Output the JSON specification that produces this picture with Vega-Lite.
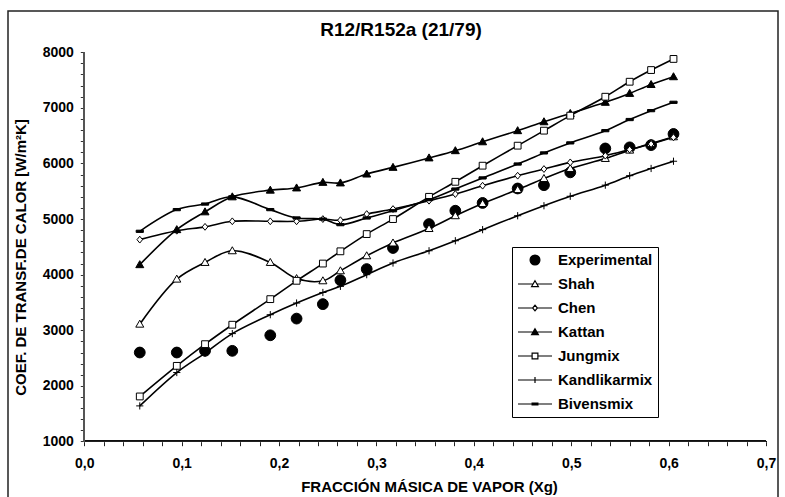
{
  "$schema": "https://vega.github.io/schema/vega-lite/v6.json",
  "width": 770,
  "height": 510,
  "autosize": {"type": "none"},
  "padding": {"left": 8, "top": 11, "right": 7, "bottom": 0},
  "background": "white",
  "title": {
    "text": "R12/R152a (21/79)",
    "font": "Liberation Sans",
    "fontSize": 19,
    "fontWeight": "bold",
    "color": "black",
    "anchor": "middle",
    "baseline": "alphabetic",
    "offset": -26,
    "dx": 8,
    "dy": 18
  },
  "config": {
    "view": {"stroke": "#222", "strokeWidth": 1.5},
    "font": "Liberation Sans"
  },
  "data": {
    "values": [
      {"x": 0.057, "series": "Experimental", "h": 2600},
      {"x": 0.095, "series": "Experimental", "h": 2600},
      {"x": 0.124, "series": "Experimental", "h": 2630},
      {"x": 0.152, "series": "Experimental", "h": 2630},
      {"x": 0.191, "series": "Experimental", "h": 2910},
      {"x": 0.218, "series": "Experimental", "h": 3210},
      {"x": 0.245, "series": "Experimental", "h": 3470},
      {"x": 0.263, "series": "Experimental", "h": 3900},
      {"x": 0.290, "series": "Experimental", "h": 4100},
      {"x": 0.317, "series": "Experimental", "h": 4480},
      {"x": 0.354, "series": "Experimental", "h": 4910},
      {"x": 0.381, "series": "Experimental", "h": 5150},
      {"x": 0.409, "series": "Experimental", "h": 5290},
      {"x": 0.445, "series": "Experimental", "h": 5550},
      {"x": 0.472, "series": "Experimental", "h": 5610},
      {"x": 0.499, "series": "Experimental", "h": 5840},
      {"x": 0.535, "series": "Experimental", "h": 6270},
      {"x": 0.560, "series": "Experimental", "h": 6290},
      {"x": 0.582, "series": "Experimental", "h": 6330},
      {"x": 0.605, "series": "Experimental", "h": 6530},

      {"x": 0.057, "series": "Shah", "h": 3110},
      {"x": 0.095, "series": "Shah", "h": 3920},
      {"x": 0.124, "series": "Shah", "h": 4220},
      {"x": 0.152, "series": "Shah", "h": 4430},
      {"x": 0.191, "series": "Shah", "h": 4220},
      {"x": 0.218, "series": "Shah", "h": 3930},
      {"x": 0.245, "series": "Shah", "h": 3890},
      {"x": 0.263, "series": "Shah", "h": 4070},
      {"x": 0.290, "series": "Shah", "h": 4340},
      {"x": 0.317, "series": "Shah", "h": 4570},
      {"x": 0.354, "series": "Shah", "h": 4830},
      {"x": 0.381, "series": "Shah", "h": 5060},
      {"x": 0.409, "series": "Shah", "h": 5280},
      {"x": 0.445, "series": "Shah", "h": 5530},
      {"x": 0.472, "series": "Shah", "h": 5730},
      {"x": 0.499, "series": "Shah", "h": 5910},
      {"x": 0.535, "series": "Shah", "h": 6090},
      {"x": 0.560, "series": "Shah", "h": 6240},
      {"x": 0.582, "series": "Shah", "h": 6360},
      {"x": 0.605, "series": "Shah", "h": 6480},

      {"x": 0.057, "series": "Chen", "h": 4630},
      {"x": 0.095, "series": "Chen", "h": 4790},
      {"x": 0.124, "series": "Chen", "h": 4860},
      {"x": 0.152, "series": "Chen", "h": 4960},
      {"x": 0.191, "series": "Chen", "h": 4960},
      {"x": 0.218, "series": "Chen", "h": 4960},
      {"x": 0.245, "series": "Chen", "h": 5000},
      {"x": 0.263, "series": "Chen", "h": 4980},
      {"x": 0.290, "series": "Chen", "h": 5090},
      {"x": 0.317, "series": "Chen", "h": 5180},
      {"x": 0.354, "series": "Chen", "h": 5330},
      {"x": 0.381, "series": "Chen", "h": 5450},
      {"x": 0.409, "series": "Chen", "h": 5600},
      {"x": 0.445, "series": "Chen", "h": 5780},
      {"x": 0.472, "series": "Chen", "h": 5900},
      {"x": 0.499, "series": "Chen", "h": 6020},
      {"x": 0.535, "series": "Chen", "h": 6140},
      {"x": 0.560, "series": "Chen", "h": 6250},
      {"x": 0.582, "series": "Chen", "h": 6350},
      {"x": 0.605, "series": "Chen", "h": 6470},

      {"x": 0.057, "series": "Kattan", "h": 4180},
      {"x": 0.095, "series": "Kattan", "h": 4810},
      {"x": 0.124, "series": "Kattan", "h": 5130},
      {"x": 0.152, "series": "Kattan", "h": 5400},
      {"x": 0.191, "series": "Kattan", "h": 5520},
      {"x": 0.218, "series": "Kattan", "h": 5560},
      {"x": 0.245, "series": "Kattan", "h": 5660},
      {"x": 0.263, "series": "Kattan", "h": 5650},
      {"x": 0.290, "series": "Kattan", "h": 5810},
      {"x": 0.317, "series": "Kattan", "h": 5930},
      {"x": 0.354, "series": "Kattan", "h": 6100},
      {"x": 0.381, "series": "Kattan", "h": 6230},
      {"x": 0.409, "series": "Kattan", "h": 6390},
      {"x": 0.445, "series": "Kattan", "h": 6590},
      {"x": 0.472, "series": "Kattan", "h": 6750},
      {"x": 0.499, "series": "Kattan", "h": 6900},
      {"x": 0.535, "series": "Kattan", "h": 7100},
      {"x": 0.560, "series": "Kattan", "h": 7260},
      {"x": 0.582, "series": "Kattan", "h": 7420},
      {"x": 0.605, "series": "Kattan", "h": 7560},

      {"x": 0.057, "series": "Jungmix", "h": 1810},
      {"x": 0.095, "series": "Jungmix", "h": 2360},
      {"x": 0.124, "series": "Jungmix", "h": 2750},
      {"x": 0.152, "series": "Jungmix", "h": 3100},
      {"x": 0.191, "series": "Jungmix", "h": 3560},
      {"x": 0.218, "series": "Jungmix", "h": 3890},
      {"x": 0.245, "series": "Jungmix", "h": 4200},
      {"x": 0.263, "series": "Jungmix", "h": 4420},
      {"x": 0.290, "series": "Jungmix", "h": 4730},
      {"x": 0.317, "series": "Jungmix", "h": 5000},
      {"x": 0.354, "series": "Jungmix", "h": 5400},
      {"x": 0.381, "series": "Jungmix", "h": 5670},
      {"x": 0.409, "series": "Jungmix", "h": 5960},
      {"x": 0.445, "series": "Jungmix", "h": 6320},
      {"x": 0.472, "series": "Jungmix", "h": 6590},
      {"x": 0.499, "series": "Jungmix", "h": 6860},
      {"x": 0.535, "series": "Jungmix", "h": 7200},
      {"x": 0.560, "series": "Jungmix", "h": 7470},
      {"x": 0.582, "series": "Jungmix", "h": 7680},
      {"x": 0.605, "series": "Jungmix", "h": 7880},

      {"x": 0.057, "series": "Kandlikarmix", "h": 1640},
      {"x": 0.095, "series": "Kandlikarmix", "h": 2240},
      {"x": 0.124, "series": "Kandlikarmix", "h": 2590},
      {"x": 0.152, "series": "Kandlikarmix", "h": 2940},
      {"x": 0.191, "series": "Kandlikarmix", "h": 3280},
      {"x": 0.218, "series": "Kandlikarmix", "h": 3490},
      {"x": 0.245, "series": "Kandlikarmix", "h": 3680},
      {"x": 0.263, "series": "Kandlikarmix", "h": 3790},
      {"x": 0.290, "series": "Kandlikarmix", "h": 4000},
      {"x": 0.317, "series": "Kandlikarmix", "h": 4210},
      {"x": 0.354, "series": "Kandlikarmix", "h": 4430},
      {"x": 0.381, "series": "Kandlikarmix", "h": 4610},
      {"x": 0.409, "series": "Kandlikarmix", "h": 4810},
      {"x": 0.445, "series": "Kandlikarmix", "h": 5060},
      {"x": 0.472, "series": "Kandlikarmix", "h": 5240},
      {"x": 0.499, "series": "Kandlikarmix", "h": 5410},
      {"x": 0.535, "series": "Kandlikarmix", "h": 5610},
      {"x": 0.560, "series": "Kandlikarmix", "h": 5780},
      {"x": 0.582, "series": "Kandlikarmix", "h": 5910},
      {"x": 0.605, "series": "Kandlikarmix", "h": 6040},

      {"x": 0.057, "series": "Bivensmix", "h": 4780},
      {"x": 0.095, "series": "Bivensmix", "h": 5170},
      {"x": 0.124, "series": "Bivensmix", "h": 5270},
      {"x": 0.152, "series": "Bivensmix", "h": 5400},
      {"x": 0.191, "series": "Bivensmix", "h": 5170},
      {"x": 0.218, "series": "Bivensmix", "h": 5020},
      {"x": 0.245, "series": "Bivensmix", "h": 5000},
      {"x": 0.263, "series": "Bivensmix", "h": 4900},
      {"x": 0.290, "series": "Bivensmix", "h": 5020},
      {"x": 0.317, "series": "Bivensmix", "h": 5150},
      {"x": 0.354, "series": "Bivensmix", "h": 5350},
      {"x": 0.381, "series": "Bivensmix", "h": 5540},
      {"x": 0.409, "series": "Bivensmix", "h": 5740},
      {"x": 0.445, "series": "Bivensmix", "h": 5990},
      {"x": 0.472, "series": "Bivensmix", "h": 6190},
      {"x": 0.499, "series": "Bivensmix", "h": 6370},
      {"x": 0.535, "series": "Bivensmix", "h": 6590},
      {"x": 0.560, "series": "Bivensmix", "h": 6790},
      {"x": 0.582, "series": "Bivensmix", "h": 6950},
      {"x": 0.605, "series": "Bivensmix", "h": 7100}
    ]
  },
  "encoding": {
    "x": {
      "field": "x", "type": "quantitative",
      "scale": {"domain": [-0.0783, 0.7123], "nice": false, "zero": false},
      "axis": {
        "values": [0, 0.02, 0.04, 0.06, 0.08, 0.1, 0.12, 0.14, 0.16, 0.18, 0.2, 0.22, 0.24, 0.26, 0.28, 0.3, 0.32, 0.34, 0.36, 0.38, 0.4, 0.42, 0.44, 0.46, 0.48, 0.5, 0.52, 0.54, 0.56, 0.58, 0.6, 0.62, 0.64, 0.66, 0.68, 0.7],
        "labelExpr": "abs(datum.value * 10 - round(datum.value * 10)) < 0.001 ? replace(format(datum.value, '.1f'), '.', ',') : ''",
        "offset": -79.3,
        "domain": false,
        "grid": false,
        "tickSize": 4,
        "tickColor": "#222",
        "tickWidth": 1,
        "labelFont": "Liberation Sans",
        "labelFontSize": 14,
        "labelFontWeight": "bold",
        "labelColor": "black",
        "labelPadding": 11,
        "labelOverlap": false,
        "labelFlush": false,
        "title": "FRACCIÓN MÁSICA DE VAPOR (Xg)",
        "titleFont": "Liberation Sans",
        "titleFontSize": 15,
        "titleFontWeight": "bold",
        "titleColor": "black",
        "titleX": 421,
        "titleY": 50,
        "titleAlign": "center",
        "titleBaseline": "alphabetic"
      }
    },
    "y": {
      "field": "h", "type": "quantitative",
      "scale": {"domain": [-430, 8742], "nice": false, "zero": false},
      "axis": {
        "values": [1000, 1200, 1400, 1600, 1800, 2000, 2200, 2400, 2600, 2800, 3000, 3200, 3400, 3600, 3800, 4000, 4200, 4400, 4600, 4800, 5000, 5200, 5400, 5600, 5800, 6000, 6200, 6400, 6600, 6800, 7000, 7200, 7400, 7600, 7800, 8000],
        "labelExpr": "datum.value % 1000 === 0 ? format(datum.value, 'd') : ''",
        "offset": -76.3,
        "domain": false,
        "grid": false,
        "tickSize": 4,
        "tickColor": "#333",
        "tickWidth": 1,
        "labelFont": "Liberation Sans",
        "labelFontSize": 14,
        "labelFontWeight": "bold",
        "labelColor": "black",
        "labelPadding": 7,
        "labelOverlap": false,
        "labelFlush": false,
        "title": "COEF. DE TRANSF.DE CALOR [W/m²K]",
        "titleFont": "Liberation Sans",
        "titleFontSize": 15,
        "titleFontWeight": "bold",
        "titleColor": "black",
        "titleAngle": -90,
        "titleX": -64,
        "titleY": 246,
        "titleAlign": "center",
        "titleBaseline": "middle"
      }
    }
  },
  "resolve": {
    "scale": {"shape": "independent", "fill": "independent", "stroke": "independent"},
    "legend": {"shape": "independent", "fill": "independent", "stroke": "independent"}
  },
  "layer": [
    {
      "transform": [{"filter": "datum.series !== 'Experimental'"}],
      "mark": {"type": "line", "interpolate": "catmull-rom", "color": "black", "strokeWidth": 1.6},
      "encoding": {
        "detail": {"field": "series"}
      }
    },
    {
      "mark": {"type": "point", "filled": true, "stroke": "black", "strokeWidth": 1, "size": 64, "opacity": 1},
      "encoding": {
        "shape": {
          "field": "series", "type": "nominal", "legend": null,
          "scale": {
            "domain": ["Experimental", "Shah", "Chen", "Kattan", "Jungmix", "Kandlikarmix", "Bivensmix"],
            "range": [
              "M1.35,0A1.35,1.35 0 1,1 -1.35,0A1.35,1.35 0 1,1 1.35,0Z",
              "M0,-1L1,0.75L-1,0.75Z",
              "M0,-0.85L0.7,0L0,0.85L-0.7,0Z",
              "M0,-1L1,0.75L-1,0.75Z",
              "M-0.85,-0.85H0.85V0.85H-0.85Z",
              "M-0.9,0H0.9M0,-0.9V0.9",
              "M-0.9,-0.28H0.9V0.28H-0.9Z"
            ]
          }
        },
        "fill": {
          "field": "series", "type": "nominal", "legend": null,
          "scale": {
            "domain": ["Experimental", "Shah", "Chen", "Kattan", "Jungmix", "Kandlikarmix", "Bivensmix"],
            "range": ["black", "white", "white", "black", "white", "black", "black"]
          }
        }
      }
    },
    {
      "transform": [{"filter": "datum.x < 0"}],
      "mark": {"type": "point", "filled": true, "strokeWidth": 1.2, "size": 1156, "opacity": 1},
      "encoding": {
        "shape": {
          "field": "series", "type": "nominal",
          "scale": {
            "domain": ["Experimental", "Shah", "Chen", "Kattan", "Jungmix", "Kandlikarmix", "Bivensmix"],
            "range": [
              "M0.29,0A0.29,0.29 0 1,1 -0.29,0A0.29,0.29 0 1,1 0.29,0Z",
              "M-1,0H-0.11M0.11,0H1M0,-0.19L0.2,0.15L-0.2,0.15Z",
              "M-1,0H-0.14M0.14,0H1M0,-0.17L0.14,0L0,0.17L-0.14,0Z",
              "M-1,0H1M0,-0.19L0.2,0.15L-0.2,0.15Z",
              "M-1,0H-0.17M0.17,0H1M-0.17,-0.17H0.17V0.17H-0.17Z",
              "M-1,0H1M0,-0.17V0.17",
              "M-1,0H1M-0.17,-0.05H0.17V0.05H-0.17Z"
            ]
          },
          "legend": {
            "title": null,
            "orient": "none",
            "legendX": 504,
            "legendY": 236,
            "strokeColor": "black",
            "fillColor": "white",
            "padding": 5,
            "rowPadding": 8,
            "clipHeight": 16,
            "symbolSize": 1156,
            "symbolStrokeWidth": 1.2,
            "labelFont": "Liberation Sans",
            "labelFontSize": 15,
            "labelFontWeight": "bold",
            "labelColor": "black",
            "labelOffset": 5,
            "cornerRadius": 0
          }
        },
        "fill": {
          "field": "series", "type": "nominal",
          "scale": {
            "domain": ["Experimental", "Shah", "Chen", "Kattan", "Jungmix", "Kandlikarmix", "Bivensmix"],
            "range": ["black", "white", "white", "black", "white", "black", "black"]
          },
          "legend": {
            "title": null,
            "orient": "none",
            "legendX": 504,
            "legendY": 236,
            "strokeColor": "black",
            "fillColor": "white",
            "padding": 5,
            "rowPadding": 8,
            "clipHeight": 16,
            "symbolSize": 1156,
            "symbolStrokeWidth": 1.2,
            "labelFont": "Liberation Sans",
            "labelFontSize": 15,
            "labelFontWeight": "bold",
            "labelColor": "black",
            "labelOffset": 5,
            "cornerRadius": 0
          }
        },
        "stroke": {
          "field": "series", "type": "nominal",
          "scale": {
            "domain": ["Experimental", "Shah", "Chen", "Kattan", "Jungmix", "Kandlikarmix", "Bivensmix"],
            "range": ["black", "black", "black", "black", "black", "black", "black"]
          },
          "legend": {
            "title": null,
            "orient": "none",
            "legendX": 504,
            "legendY": 236,
            "strokeColor": "black",
            "fillColor": "white",
            "padding": 5,
            "rowPadding": 8,
            "clipHeight": 16,
            "symbolSize": 1156,
            "symbolStrokeWidth": 1.2,
            "labelFont": "Liberation Sans",
            "labelFontSize": 15,
            "labelFontWeight": "bold",
            "labelColor": "black",
            "labelOffset": 5,
            "cornerRadius": 0
          }
        }
      }
    },
    {
      "mark": {"type": "rule", "color": "#222", "strokeWidth": 1},
      "encoding": {
        "x": {"datum": 0, "type": "quantitative"},
        "x2": {"datum": 0.7},
        "y": {"datum": 1000, "type": "quantitative"}
      }
    },
    {
      "mark": {"type": "rule", "color": "#555", "strokeWidth": 1},
      "encoding": {
        "x": {"datum": 0, "type": "quantitative"},
        "y": {"datum": 1000, "type": "quantitative"},
        "y2": {"datum": 8000}
      }
    }
  ]
}
